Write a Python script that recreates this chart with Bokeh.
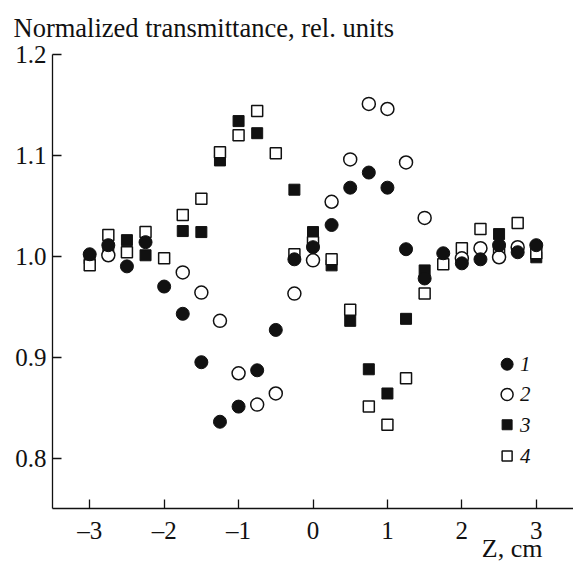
from bokeh.plotting import figure
from bokeh.models import Range1d, FixedTicker, Label, Title
from bokeh.embed import file_html
from bokeh.resources import INLINE

# Normalized transmittance vs. sample position Z (cm), four curves
z1 = [-3, -2.75, -2.5, -2.25, -2, -1.75, -1.5, -1.25, -1, -0.75, -0.5, -0.25, 0,
      0.25, 0.5, 0.75, 1, 1.25, 1.5, 1.75, 2, 2.25, 2.5, 2.75, 3]
t1 = [1.002, 1.011, 0.990, 1.014, 0.970, 0.943, 0.895, 0.836, 0.851, 0.887, 0.927,
      0.997, 1.009, 1.031, 1.068, 1.083, 1.068, 1.007, 0.978, 1.003, 0.993, 0.997,
      1.011, 1.004, 1.011]

z2 = [-2.75, -1.75, -1.5, -1.25, -1, -0.75, -0.5, -0.25, 0, 0.25, 0.5, 0.75, 1,
      1.25, 1.5, 2, 2.25, 2.5, 2.75]
t2 = [1.001, 0.984, 0.964, 0.936, 0.884, 0.853, 0.864, 0.963, 0.996, 1.054, 1.096,
      1.151, 1.146, 1.093, 1.038, 0.998, 1.008, 0.999, 1.009]

z3 = [-3, -2.75, -2.5, -2.25, -1.75, -1.5, -1.25, -1, -0.75, -0.25, 0, 0.25, 0.5,
      0.75, 1, 1.25, 1.5, 2.5, 3]
t3 = [0.998, 1.007, 1.016, 1.001, 1.025, 1.024, 1.095, 1.134, 1.122, 1.066, 1.024,
      0.991, 0.936, 0.888, 0.864, 0.938, 0.986, 1.022, 0.999]

z4 = [-3, -2.75, -2.5, -2.25, -2, -1.75, -1.5, -1.25, -1, -0.75, -0.5, -0.25, 0,
      0.25, 0.5, 0.75, 1, 1.25, 1.5, 1.75, 2, 2.25, 2.5, 2.75, 3]
t4 = [0.991, 1.021, 1.004, 1.024, 0.998, 1.041, 1.057, 1.103, 1.120, 1.144, 1.102,
      1.002, 1.014, 0.997, 0.947, 0.851, 0.833, 0.879, 0.963, 0.992, 1.008, 1.027,
      1.004, 1.033, 1.003]

x_ticks = [-3, -2, -1, 0, 1, 2, 3]
x_tick_labels = ["\u20133", "\u20132", "\u20131", "0", "1", "2", "3"]
y_ticks = [0.8, 0.9, 1.0, 1.1, 1.2]
y_tick_labels = ["0.8", "0.9", "1.0", "1.1", "1.2"]

legend_names = ["1", "2", "3", "4"]

FONT = "Liberation Serif"
INK = "#111111"

p = figure(width=573, height=563, output_backend="svg", toolbar_location=None,
           x_range=Range1d(-3.5, 3.5), y_range=Range1d(0.75, 1.2),
           min_border_left=52, min_border_right=0, min_border_top=54,
           min_border_bottom=55)
p.outline_line_color = None
p.grid.visible = False
p.background_fill_color = "white"

for ax in (p.xaxis, p.yaxis):
    ax.axis_line_color = INK
    ax.axis_line_width = 1.3
    ax.major_tick_line_color = INK
    ax.major_tick_line_width = 1.3
    ax.major_tick_in = 9
    ax.major_tick_out = 0
    ax.minor_tick_line_color = None
    ax.major_label_text_font = FONT
    ax.major_label_text_font_size = "25px"
    ax.major_label_text_color = INK

p.xaxis.ticker = FixedTicker(ticks=x_ticks)
p.xaxis.major_label_overrides = dict(zip(x_ticks, x_tick_labels))
p.xaxis.major_label_standoff = 8
p.yaxis.ticker = FixedTicker(ticks=y_ticks)
p.yaxis.major_label_overrides = dict(zip(y_ticks, y_tick_labels))
p.yaxis.major_label_standoff = 6

# series styles: (marker, filled, size)
styles = [("circle", True, 13), ("circle", False, 13), ("square", True, 11), ("square", False, 11)]
series = [(z1, t1), (z2, t2), (z3, t3), (z4, t4)]

def draw(xs, ys, style, size=None):
    marker, filled, sz = style
    p.scatter(xs, ys, marker=marker, size=size or sz,
              fill_color=INK if filled else "white",
              line_color=INK, line_width=1.0 if filled else 1.5)

# draw order: filled squares, open squares, open circles, filled circles
for i in (2, 3, 1, 0):
    draw(series[i][0], series[i][1], styles[i])

# legend block in the lower right
leg_x = 2.608
leg_text_x = 2.78
leg_y = [0.893, 0.863, 0.833, 0.802]
for i, name in enumerate(legend_names):
    draw([leg_x], [leg_y[i]], styles[i], size=styles[i][2] - 1)
    p.add_layout(Label(x=leg_text_x, y=leg_y[i], text=name, text_font=FONT,
                       text_font_size="21px", text_font_style="italic",
                       text_color=INK, text_baseline="middle"))

# axis titles
p.add_layout(Title(text="Normalized transmittance, rel. units", align="left",
                   offset=-39, standoff=21, vertical_align="middle", text_line_height=1.0,
                   text_font=FONT, text_font_size="26.5px",
                   text_font_style="normal", text_color=INK), "above")
p.add_layout(Title(text="Z, cm", align="right", offset=31, standoff=-26,
                   vertical_align="top", text_line_height=1.0,
                   text_font=FONT, text_font_size="26px", text_font_style="normal",
                   text_color=INK), "below")

open("out.html", "w").write(file_html(p, INLINE))
